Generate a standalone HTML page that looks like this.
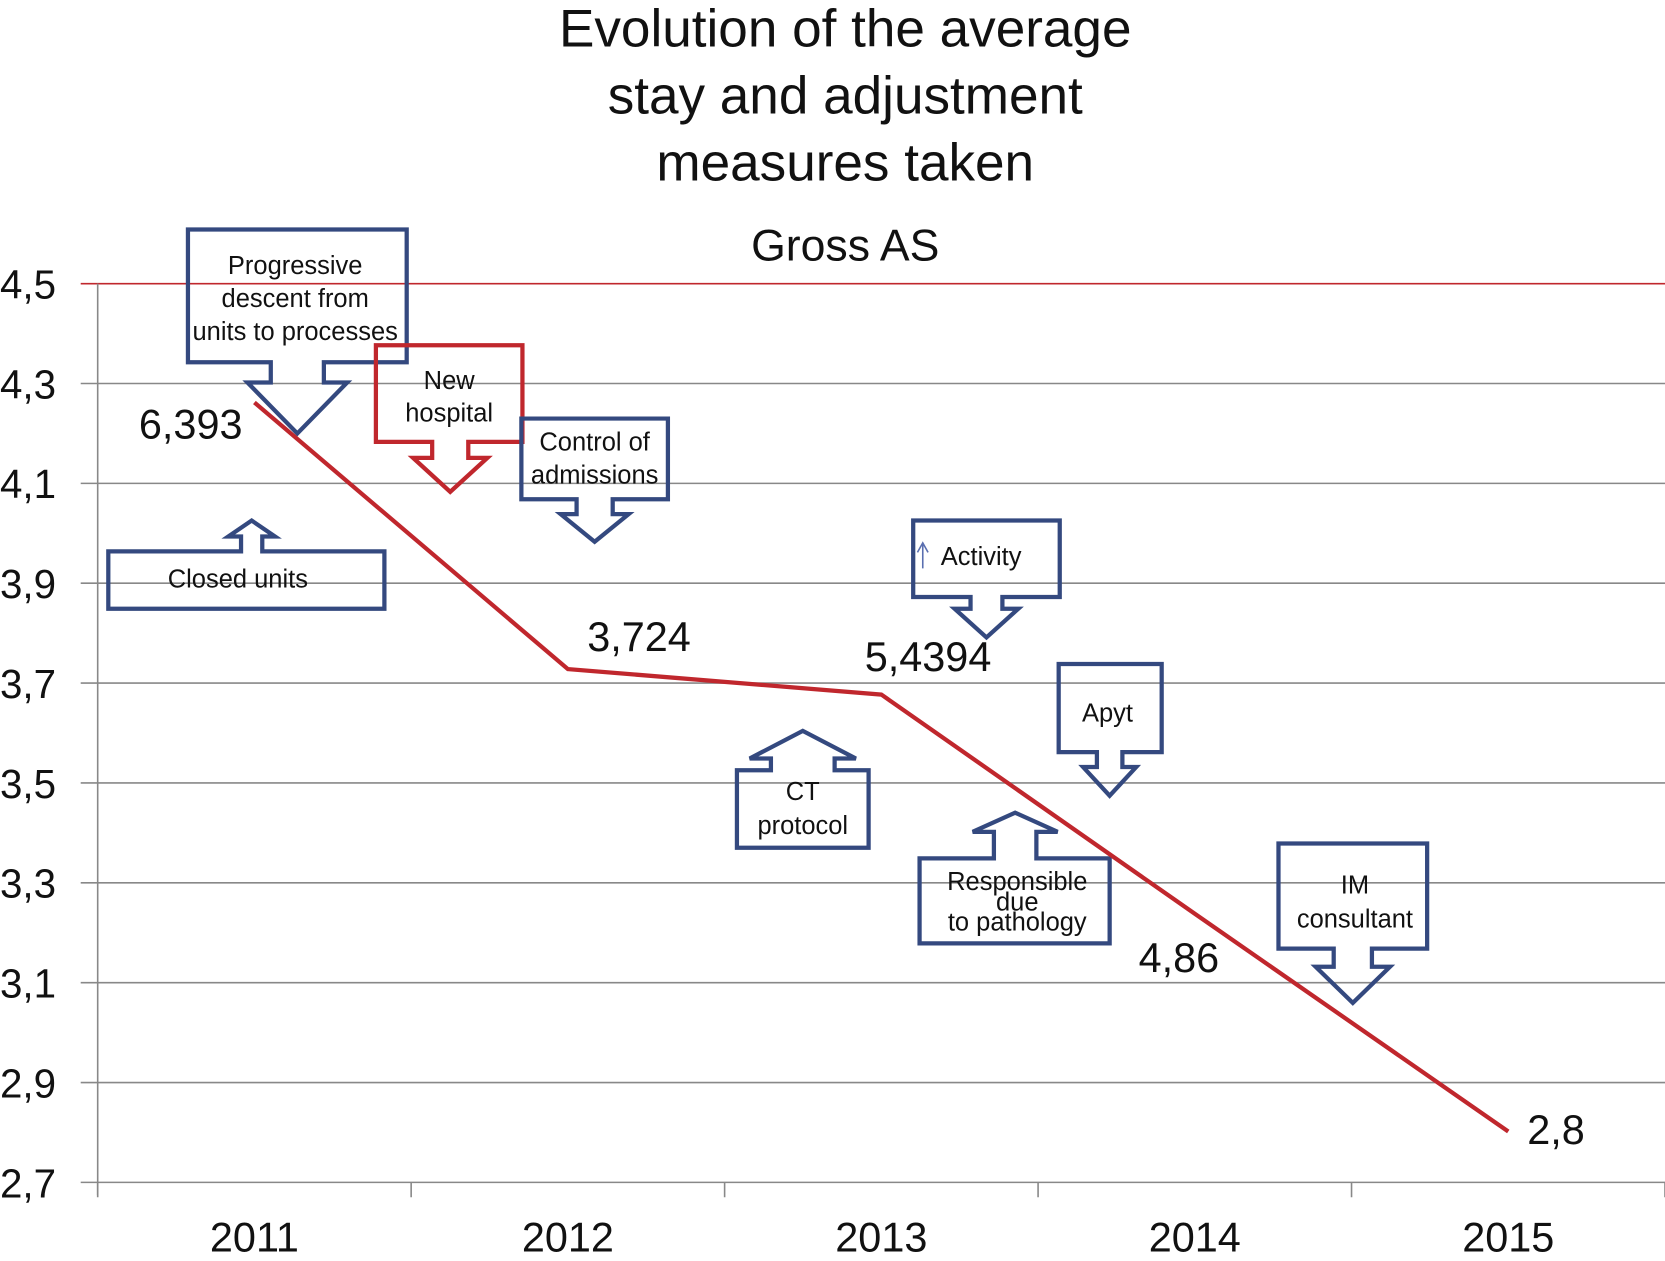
<!DOCTYPE html>
<html><head><meta charset="utf-8"><style>
html,body{margin:0;padding:0;background:#fff;}
svg{display:block;font-family:"Liberation Sans",Arial,sans-serif;}
</style></head><body>
<svg id="chart" width="1665" height="1261" viewBox="0 0 1568 1187" preserveAspectRatio="none" xmlns="http://www.w3.org/2000/svg">
<g font-size="50" text-anchor="middle" fill="#111">
<text x="796" y="44">Evolution of the average</text>
<text x="796" y="107">stay and adjustment</text>
<text x="796" y="170">measures taken</text>
</g>
<text x="796" y="245" font-size="42" text-anchor="middle" fill="#111">Gross AS</text>
<g id="grid"></g>
<g id="callouts"></g>
<g id="series"></g>
</svg>
<script>
const categories=["2011","2012","2013","2014","2015"];
const values=[4.262,3.728,3.677,3.238,2.802];
const pointLabels=["6,393","3,724","5,4394","4,86","2,8"];
const yTicks=[2.7,2.9,3.1,3.3,3.5,3.7,3.9,4.1,4.3,4.5];
const yTickLabels=["2,7","2,9","3,1","3,3","3,5","3,7","3,9","4,1","4,3","4,5"];
const NS="http://www.w3.org/2000/svg";
const L=92,R=1568,T=267,B=1113,ymin=2.7,ymax=4.5;
const band=(R-L)/categories.length;
function xs(i){return L+band*(i+0.5);}
function ys(v){return B-(v-ymin)/(ymax-ymin)*(B-T);}
function mk(tag,attrs,parent){const e=document.createElementNS(NS,tag);for(const k in attrs)e.setAttribute(k,attrs[k]);parent.appendChild(e);return e;}
const grid=document.getElementById('grid');
yTicks.forEach((t,i)=>{
  const y=ys(t);
  const ln=mk('line',{x1:76,x2:R,y1:y,y2:y,stroke:i===yTicks.length-1?'#c0272d':'#888','stroke-width':1.5},grid);
  
  
  const tx=mk('text',{x:0,y:y+14,'font-size':38,fill:'#111'},grid);
  tx.textContent=yTickLabels[i];
  
  
});
const ax=mk('line',{x1:L,x2:L,y1:T,y2:B+12,stroke:'#888','stroke-width':1.5},grid);


for(let i=0;i<=categories.length;i++){
  const x=L+band*i;
  const tk=mk('line',{x1:x,x2:x,y1:B,y2:B+14,stroke:'#888','stroke-width':1.5},grid);
  
  
}
categories.forEach((c,i)=>{
  const tx=mk('text',{x:xs(i),y:1178,'font-size':39,'text-anchor':'middle',fill:'#111'},grid);
  tx.textContent=c;
  
  
});
const BLUE='#34497f',RED='#c0272d';
const cg=document.getElementById('callouts');
function down(b,cx,sh,hh,sb,tip){return `M${b[0]} ${b[1]}H${b[2]}V${b[3]}H${cx+sh}V${sb}H${cx+hh}L${cx} ${tip}L${cx-hh} ${sb}H${cx-sh}V${b[3]}H${b[0]}Z`;}
function up(b,cx,sh,hh,st,tip){return `M${b[0]} ${b[3]}H${b[2]}V${b[1]}H${cx+sh}V${st}H${cx+hh}L${cx} ${tip}L${cx-hh} ${st}H${cx-sh}V${b[1]}H${b[0]}Z`;}
const callouts=[
 {n:'progressive-descent-callout',d:down([177,216,383,341],280,25,47,360,408),c:BLUE,t:['Progressive','descent from','units to processes'],x:278,y:258,fs:24,lh:31},
 {n:'new-hospital-callout',d:down([354,325,492,416],424,17,35,431,463),c:RED,t:['New','hospital'],x:423,y:366,fs:24,lh:31},
 {n:'control-admissions-callout',d:down([491,394,629,470],560,17,32,484,510),c:BLUE,t:['Control of','admissions'],x:560,y:424,fs:24,lh:31},
 {n:'closed-units-callout',d:up([102,519,362,573],237,10,22,505,490),c:BLUE,t:['Closed units'],x:224,y:553,fs:24,lh:31},
 {n:'activity-callout',d:down([860,490,998,562],929,15,30,573,600),c:BLUE,t:['Activity'],x:924,y:532,fs:24,lh:31},
 {n:'apyt-callout',d:down([997,625,1094,708],1045,12,25,722,749),c:BLUE,t:['Apyt'],x:1043,y:679,fs:24,lh:31},
 {n:'ct-protocol-callout',d:up([694,725,818,798],756,30,50,714,688),c:BLUE,t:['CT','protocol'],x:756,y:753,fs:24,lh:32},
 {n:'responsible-pathology-callout',d:up([866,808,1045,888],956,20,40,783,765),c:BLUE,t:['Responsible','due','to pathology'],x:958,y:838,fs:24,lh:19},
 {n:'im-consultant-callout',d:down([1204,794,1344,893],1274,18,35,910,944),c:BLUE,t:['IM','consultant'],x:1276,y:841,fs:24,lh:32}
];
callouts.forEach(o=>{
  const g=mk('g',{},cg);
  
  
  mk('path',{d:o.d,fill:'none',stroke:o.c,'stroke-width':4,'stroke-linejoin':'miter'},g);
  o.t.forEach((s,k)=>{const tx=mk('text',{x:o.x,y:o.y+k*o.lh,'font-size':o.fs,'text-anchor':'middle',fill:'#111'},g);tx.textContent=s;});
});
const smallArrow=mk('path',{d:'M869 535V512M864 520L869 511L874 520',stroke:'#5a6fb0','stroke-width':1.5,fill:'none'},cg);


const sg=document.getElementById('series');
const line=mk('polyline',{points:values.map((v,i)=>xs(i)+','+ys(v)).join(' '),fill:'none',stroke:RED,'stroke-width':4},sg);


const off=[[-60,34],[67,-17],[44,-22],[-15,55],[45,12]];
values.forEach((v,i)=>{
  const tx=mk('text',{x:xs(i)+off[i][0],y:ys(v)+off[i][1],'font-size':39,'text-anchor':'middle',fill:'#111'},sg);
  tx.textContent=pointLabels[i];
  
  
});
</script>
</body></html>
